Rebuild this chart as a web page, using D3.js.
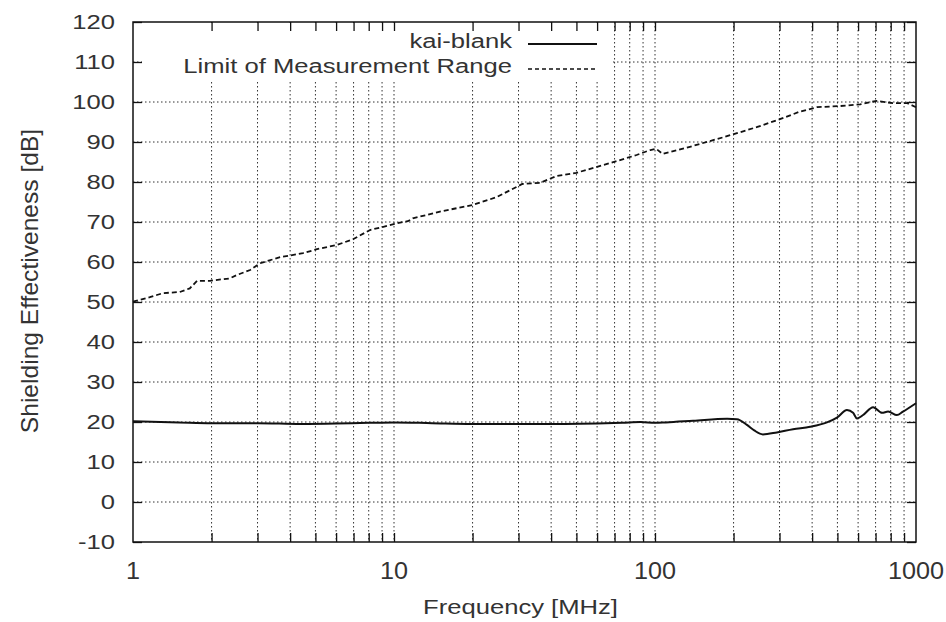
<!DOCTYPE html>
<html>
<head>
<meta charset="utf-8">
<script src="https://cdn.jsdelivr.net/npm/d3@7"></script>
<style>
  body { margin: 0; background: #fff; }
  text { font-family: "Liberation Sans", Arial, sans-serif; fill: #333; }
</style>
</head>
<body>
<svg id="chart"></svg>
<script>
// kai-blank measurement (MHz, dB)
const kaiFreq = [1, 1.5, 2, 3, 4.4, 6, 8, 10, 14, 20, 30, 45, 60, 75, 88, 100, 110, 140,
  189, 206, 225, 240, 259, 293, 338, 393, 456, 498, 544, 574, 594, 627, 685, 741, 782, 845, 891, 1000];
const kaiSE = [20.2, 19.9, 19.7, 19.7, 19.5, 19.6, 19.8, 19.9, 19.7, 19.5, 19.5, 19.5, 19.6, 19.8, 20.0, 19.8, 19.9, 20.3,
  20.8, 20.7, 19.3, 17.9, 16.9, 17.4, 18.2, 18.8, 19.9, 21.1, 23.0, 22.3, 20.9, 21.75, 23.7, 22.3, 22.6, 21.75, 22.6, 24.7];

// limit of measurement range (MHz, dB)
const limitFreq = [1, 1.16, 1.3, 1.51, 1.65, 1.76, 1.97, 2.35, 2.5, 2.81, 3.07, 3.66, 4.48, 5.07, 6.04, 6.97,
  8.09, 9.1, 10.3, 11.3, 11.8, 15, 20, 24.7, 31, 36.3, 42, 50, 60, 71.6, 85, 96, 101, 107, 136, 183, 206,
  245, 301, 359, 417, 514, 610, 707, 815, 927, 1000];
const limitSE = [50.1, 51.2, 52.2, 52.5, 53.4, 55.3, 55.3, 55.9, 56.75, 58, 59.7, 61.2, 62.2, 63.2, 64.25, 65.7,
  68, 68.8, 69.7, 70.2, 70.9, 72.6, 74.25, 76.2, 79.5, 79.8, 81.5, 82.3, 83.8, 85.25, 86.75, 88, 88.3, 87, 88.8, 91.2, 92.2,
  93.7, 95.7, 97.6, 98.7, 99, 99.4, 100.3, 99.7, 99.7, 98.7];

const xTickLabels = [1, 10, 100, 1000];
const xMinorTicks = [2, 3, 4, 5, 6, 7, 8, 9, 20, 30, 40, 50, 60, 70, 80, 90, 200, 300, 400, 500, 600, 700, 800, 900];
const yTickLabels = [-10, 0, 10, 20, 30, 40, 50, 60, 70, 80, 90, 100, 110, 120];
const seriesNames = ["kai-blank", "Limit of Measurement Range"];

const margin = { top: 22, right: 30, bottom: 80, left: 133 },
  width = 916 - margin.left,
  height = 542 - margin.top;
const stretch = 1.22; // the lettering is wider than Helvetica/Arial

const svg = d3
  .select("#chart")
  .attr("width", 946)
  .attr("height", 622)
  .append("g")
  .attr("transform", `translate(${margin.left},${margin.top})`);

const x = d3.scaleLog().domain([1, 1000]).range([0, width]);
const y = d3.scaleLinear().domain([-10, 120]).range([height, 0]);

// grid
const grid = svg.append("g")
  .attr("stroke", "#333")
  .attr("stroke-width", 1)
  .attr("stroke-dasharray", "1.5,2.5");

grid.selectAll(".gy")
  .data(yTickLabels.slice(1, -1))
  .enter()
  .append("line")
  .attr("x1", 0)
  .attr("x2", width)
  .attr("y1", (d) => y(d))
  .attr("y2", (d) => y(d));

grid.selectAll(".gx")
  .data(xMinorTicks.concat([10, 100]))
  .enter()
  .append("line")
  .attr("x1", (d) => x(d))
  .attr("x2", (d) => x(d))
  .attr("y1", 0)
  .attr("y2", height);

// key area hides the grid
svg.append("rect")
  .attr("x", 9)
  .attr("y", 1)
  .attr("width", 470)
  .attr("height", 57)
  .attr("fill", "#fff");

// data
const kaiLine = d3.line()
  .x((d, i) => x(kaiFreq[i]))
  .y((d) => y(d))
  .curve(d3.curveMonotoneX);

svg.append("path")
  .datum(kaiSE)
  .attr("d", kaiLine)
  .attr("fill", "none")
  .attr("stroke", "#111")
  .attr("stroke-width", 2);

const limitLine = d3.line()
  .x((d, i) => x(limitFreq[i]))
  .y((d) => y(d));

svg.append("path")
  .datum(limitSE)
  .attr("d", limitLine)
  .attr("fill", "none")
  .attr("stroke", "#111")
  .attr("stroke-width", 1.8)
  .attr("stroke-dasharray", "5,3");

// ticks (inward, on all four sides)
const allX = xMinorTicks.concat([10, 100]);
const tickStyle = (g) => {
  g.select(".domain").remove();
  g.selectAll("line").attr("stroke", "#111").attr("stroke-width", 1.3);
};
svg.append("g").attr("transform", `translate(0,${height})`)
  .call(d3.axisBottom(x).tickValues(allX).tickSize(-9).tickFormat(""))
  .call(tickStyle);
svg.append("g")
  .call(d3.axisTop(x).tickValues(allX).tickSize(-9).tickFormat(""))
  .call(tickStyle);
svg.append("g")
  .call(d3.axisLeft(y).tickValues(yTickLabels).tickSize(-9).tickFormat(""))
  .call(tickStyle);
svg.append("g").attr("transform", `translate(${width},0)`)
  .call(d3.axisRight(y).tickValues(yTickLabels).tickSize(-9).tickFormat(""))
  .call(tickStyle);

// frame
svg.append("rect")
  .attr("width", width)
  .attr("height", height)
  .attr("fill", "none")
  .attr("stroke", "#111")
  .attr("stroke-width", 1.5);

// tick labels
svg.selectAll(".ylab")
  .data(yTickLabels)
  .enter()
  .append("text")
  .attr("transform", (d) => `translate(-18,${y(d)}) scale(${stretch},1)`)
  .attr("dy", "0.35em")
  .attr("text-anchor", "end")
  .attr("font-size", "21px")
  .text((d) => d);

svg.selectAll(".xlab")
  .data(xTickLabels)
  .enter()
  .append("text")
  .attr("transform", (d) => `translate(${x(d)},${height + 37}) scale(1.05,1)`)
  .attr("text-anchor", "middle")
  .attr("font-size", "24px")
  .text((d) => d);

// axis titles
svg.append("text")
  .attr("transform", `translate(${width / 2 - 4},${height + 72}) scale(${stretch},1)`)
  .attr("text-anchor", "middle")
  .attr("font-size", "21px")
  .text("Frequency [MHz]");

svg.append("text")
  .attr("transform", `translate(${38 - margin.left},${height / 2 - 1}) rotate(-90) scale(1.07,1)`)
  .attr("text-anchor", "middle")
  .attr("font-size", "23px")
  .text("Shielding Effectiveness [dB]");

// legend
const legend = svg.append("g").attr("transform", `translate(${512 - margin.left},0)`);
seriesNames.forEach((name, i) => {
  legend.append("text")
    .attr("transform", `translate(0,${26 + i * 25}) scale(${stretch},1)`)
    .attr("text-anchor", "end")
    .attr("font-size", "21px")
    .text(name);
  legend.append("line")
    .attr("x1", 16)
    .attr("x2", 85)
    .attr("y1", 22 + i * 25)
    .attr("y2", 22 + i * 25)
    .attr("stroke", "#111")
    .attr("stroke-width", i === 0 ? 2 : 1.5)
    .attr("stroke-dasharray", i === 0 ? null : "4,3");
});
</script>
</body>
</html>
